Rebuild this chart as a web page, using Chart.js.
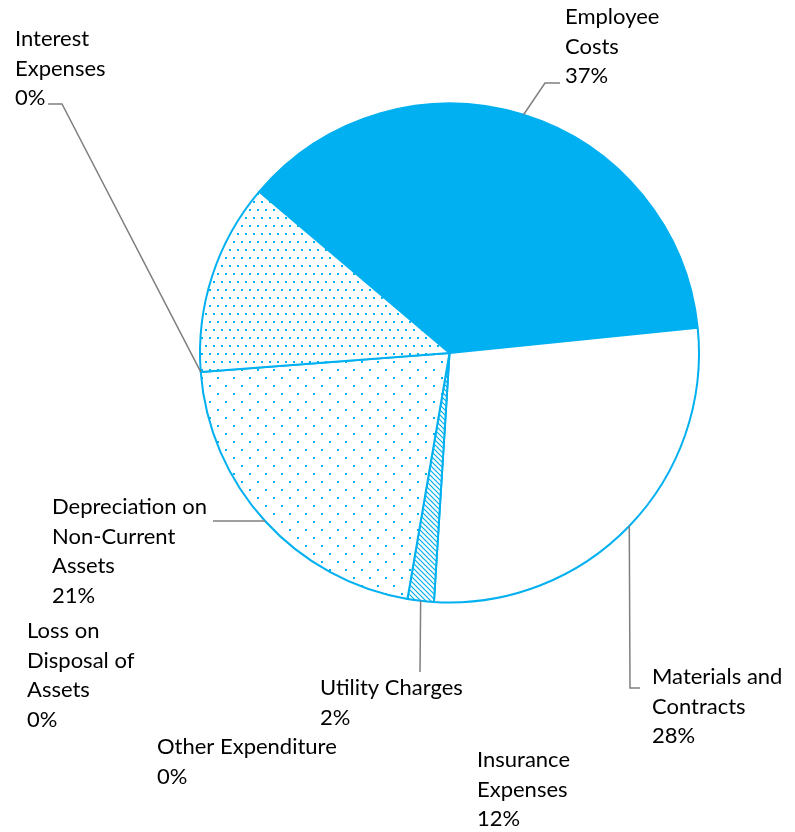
<!DOCTYPE html>
<html>
<head>
<meta charset="utf-8">
<script src="https://cdn.jsdelivr.net/npm/chart.js@4/dist/chart.umd.min.js"></script>
<style>
  html, body { margin: 0; padding: 0; background: #fff; }
  #wrap { width: 795px; height: 832px; }
</style>
</head>
<body>
<div id="wrap"><canvas id="expenseChart" width="795" height="832"></canvas></div>
<script>
const categories = [
  'Employee Costs', 'Materials and Contracts', 'Utility Charges',
  'Depreciation on Non-Current Assets', 'Loss on Disposal of Assets',
  'Other Expenditure', 'Interest Expenses', 'Insurance Expenses'
];
const shares = [37.2, 27.6, 1.7, 21.1, 0, 0, 0, 12.4];

// how each label is wrapped, and where it sits
const wrapped = [
  ['Employee', 'Costs'],
  ['Materials and', 'Contracts'],
  ['Utility Charges'],
  ['Depreciation on', 'Non-Current', 'Assets'],
  ['Loss on', 'Disposal of', 'Assets'],
  ['Other Expenditure'],
  ['Interest', 'Expenses'],
  ['Insurance', 'Expenses']
];
const labelPos = [
  [565, 17], [652, 677], [320, 688], [52, 507],
  [27, 631], [157, 747], [15, 39], [477, 760]
];
// leader line points on the label side (null = no leader)
const leaders = [
  [[560, 83], [545, 83]],
  [[640, 688], [630, 688]],
  [[420, 672]],
  [[213, 521]],
  null,
  null,
  [[48, 104], [62, 104]],
  null
];

const BLUE = '#00B0F0';

function dotPattern(w, h, dots) {
  const c = document.createElement('canvas');
  c.width = w; c.height = h;
  const g = c.getContext('2d');
  g.fillStyle = '#fff';
  g.fillRect(0, 0, w, h);
  g.fillStyle = BLUE;
  dots.forEach(d => g.fillRect(d[0], d[1], 2, 2));
  return g.createPattern(c, 'repeat');
}

function hatchPattern() {
  const c = document.createElement('canvas');
  c.width = 5; c.height = 5;
  const g = c.getContext('2d');
  g.fillStyle = '#fff';
  g.fillRect(0, 0, 5, 5);
  g.strokeStyle = BLUE;
  g.lineWidth = 1.2;
  g.beginPath();
  g.moveTo(-1, -1); g.lineTo(6, 6);
  g.moveTo(-1, 4); g.lineTo(1, 6);
  g.moveTo(4, -1); g.lineTo(6, 1);
  g.stroke();
  return g.createPattern(c, 'repeat');
}

const fills = [
  BLUE,
  '#ffffff',
  hatchPattern(),
  dotPattern(16, 16, [[1, 1], [9, 9]]),
  '#ffffff',
  '#ffffff',
  '#ffffff',
  dotPattern(8, 16, [[1, 1], [5, 9]])
];

const labelPlugin = {
  id: 'outsideLabels',
  afterDraw(chart) {
    const ctx = chart.ctx;
    const arcs = chart.getDatasetMeta(0).data;
    ctx.save();
    // leader lines
    ctx.strokeStyle = '#7f7f7f';
    ctx.lineWidth = 1.5;
    leaders.forEach((pts, i) => {
      if (!pts) return;
      const a = arcs[i];
      const mid = (a.startAngle + a.endAngle) / 2;
      const ax = a.x + Math.cos(mid) * a.outerRadius;
      const ay = a.y + Math.sin(mid) * a.outerRadius;
      ctx.beginPath();
      ctx.moveTo(pts[0][0], pts[0][1]);
      for (let k = 1; k < pts.length; k++) ctx.lineTo(pts[k][0], pts[k][1]);
      ctx.lineTo(ax, ay);
      ctx.stroke();
    });
    // texts
    ctx.fillStyle = '#000';
    ctx.font = '22px Lato';
    ctx.textBaseline = 'middle';
    ctx.textAlign = 'left';
    categories.forEach((cat, i) => {
      const lines = wrapped[i].concat([Math.round(shares[i]) + '%']);
      const [x, y] = labelPos[i];
      lines.forEach((t, k) => ctx.fillText(t, x, y + k * 29.5));
    });
    ctx.restore();
  }
};

new Chart(document.getElementById('expenseChart'), {
  type: 'pie',
  data: {
    labels: categories,
    datasets: [{
      data: shares,
      backgroundColor: fills,
      borderColor: BLUE,
      borderWidth: 2
    }]
  },
  options: {
    responsive: false,
    animation: false,
    events: [],
    rotation: -49.7,
    layout: { padding: { left: 199, right: 95, top: 102, bottom: 228 } },
    plugins: {
      legend: { display: false },
      tooltip: { enabled: false }
    }
  },
  plugins: [labelPlugin]
});
</script>
</body>
</html>
